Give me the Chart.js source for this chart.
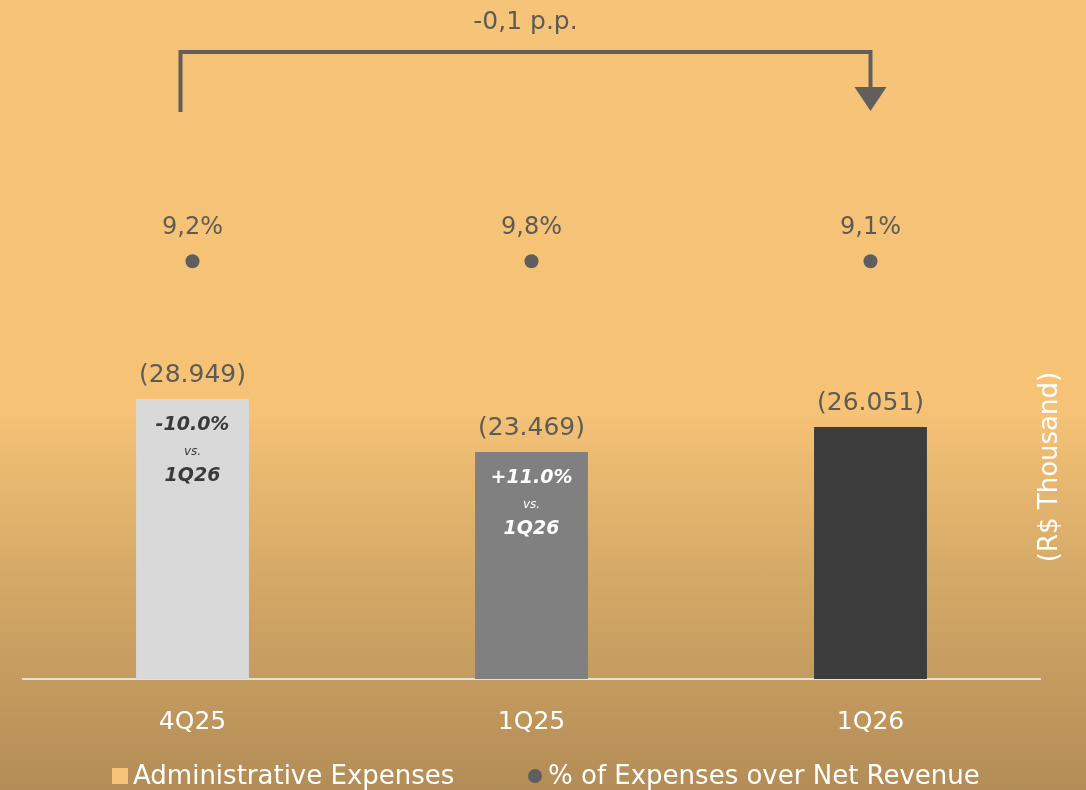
<!DOCTYPE html>
<html lang="en">
<head>
  <meta charset="UTF-8" />
  <title>Administrative Expenses</title>
  <script src="https://cdn.jsdelivr.net/npm/chart.js@4"></script>
  <style>
    html, body { margin: 0; padding: 0; }
    body {
      width: 1086px; height: 790px; overflow: hidden;
      background: linear-gradient(to bottom, #F6C478 0%, #F5C276 52%, #D6AA67 72%, #B38D57 100%);
      font-family: "DejaVu Sans", sans-serif;
    }
    canvas { display: block; }
  </style>
</head>
<body>
  <canvas id="chart" width="1086" height="790"></canvas>

  <script>
    // data
    const quarters = ["4Q25", "1Q25", "1Q26"];
    const adminExpenses = [28949, 23469, 26051];          // R$ thousand
    const expenseLabels = ["(28.949)", "(23.469)", "(26.051)"];
    const pctOfRevenue = [9.2, 9.8, 9.1];
    const pctLabels = ["9,2%", "9,8%", "9,1%"];
    const versusTop = ["-10.0%", "+11.0%", null];
    const versusBottom = ["1Q26", "1Q26", null];
    const changeLabel = "-0,1 p.p.";
    const seriesNames = ["Administrative Expenses", "% of Expenses over Net Revenue"];

    const barColors = ["#D9D9D9", "#808080", "#3C3C3C"];
    const barTextColors = ["#3A3A3A", "#FFFFFF", "#FFFFFF"];
    const greyText = "#5E5B56";
    const dotColor = "#5E5E5E";
    const FONT = "DejaVu Sans";

    // value labels, comparison text, the arrow, legend and the unit title
    const extras = {
      id: "extras",
      afterDatasetsDraw(chart) {
        const ctx = chart.ctx;
        const x = chart.scales.x;
        const bars = chart.getDatasetMeta(0).data;
        const dots = chart.getDatasetMeta(1).data;
        ctx.save();
        ctx.textAlign = "center";
        ctx.textBaseline = "middle";

        bars.forEach((bar, i) => {
          ctx.fillStyle = greyText;
          ctx.font = "25px '" + FONT + "'";
          ctx.fillText(expenseLabels[i], bar.x, bar.y - 24);
          if (versusTop[i]) {
            ctx.fillStyle = barTextColors[i];
            ctx.font = "italic bold 19px '" + FONT + "'";
            ctx.fillText(versusTop[i], bar.x, bar.y + 26);
            ctx.font = "italic 12px '" + FONT + "'";
            ctx.fillText("vs.", bar.x, bar.y + 53);
            ctx.font = "italic bold 19px '" + FONT + "'";
            ctx.fillText(versusBottom[i], bar.x, bar.y + 77);
          }
        });

        ctx.font = "24px '" + FONT + "'";
        dots.forEach((pt, i) => {
          ctx.fillStyle = greyText;
          ctx.fillText(pctLabels[i], pt.x, pt.y - 33);
        });

        // bracket arrow from first to last quarter
        const x0 = x.getPixelForValue(0) - 12;
        const x1 = x.getPixelForValue(quarters.length - 1);
        const yTop = 52, yLeft = 112, yHead = 87, yTip = 111;
        ctx.strokeStyle = "#625F5A";
        ctx.fillStyle = "#625F5A";
        ctx.lineWidth = 4;
        ctx.beginPath();
        ctx.moveTo(x0, yLeft);
        ctx.lineTo(x0, yTop);
        ctx.lineTo(x1, yTop);
        ctx.lineTo(x1, yHead + 2);
        ctx.stroke();
        ctx.beginPath();
        ctx.moveTo(x1 - 16, yHead);
        ctx.lineTo(x1 + 16, yHead);
        ctx.lineTo(x1, yTip);
        ctx.closePath();
        ctx.fill();

        ctx.fillStyle = greyText;
        ctx.font = "25px '" + FONT + "'";
        ctx.fillText(changeLabel, (x0 + x1) / 2, 22);

        // legend row
        ctx.textAlign = "left";
        ctx.font = "26px '" + FONT + "'";
        ctx.fillStyle = "#F6C478";
        ctx.fillRect(112, 768, 16, 16);
        ctx.fillStyle = "#FFFFFF";
        ctx.fillText(seriesNames[0], 133, 777);
        ctx.fillStyle = dotColor;
        ctx.beginPath();
        ctx.arc(535, 776, 7, 0, Math.PI * 2);
        ctx.fill();
        ctx.fillStyle = "#FFFFFF";
        ctx.fillText(seriesNames[1], 548, 777);

        // unit title on the right
        ctx.textAlign = "center";
        ctx.translate(1050, 467);
        ctx.rotate(-Math.PI / 2);
        ctx.fillStyle = "#FFFFFF";
        ctx.font = "26px '" + FONT + "'";
        ctx.fillText("(R$ Thousand)", 0, 0);
        ctx.restore();
      }
    };

    new Chart(document.getElementById("chart"), {
      type: "bar",
      data: {
        labels: quarters,
        datasets: [
          {
            label: seriesNames[0],
            data: adminExpenses,
            backgroundColor: barColors,
            borderWidth: 0,
            barPercentage: 1,
            categoryPercentage: 0.333,
            yAxisID: "y",
            order: 2
          },
          {
            type: "line",
            label: seriesNames[1],
            data: pctOfRevenue.map(() => "rate"),
            pctValues: pctOfRevenue,
            showLine: false,
            pointRadius: 7,
            pointHoverRadius: 7,
            pointBackgroundColor: dotColor,
            pointBorderWidth: 0,
            borderColor: dotColor,
            yAxisID: "y2",
            order: 1
          }
        ]
      },
      options: {
        responsive: false,
        animation: false,
        devicePixelRatio: 1,
        layout: { padding: { left: 23, right: 46, top: 122, bottom: 33 } },
        scales: {
          x: {
            grid: { display: false },
            border: { display: true, color: "#E6E1D8", width: 2 },
            ticks: { color: "#FFFFFF", font: { family: FONT, size: 25 }, padding: 20 }
          },
          y: {
            display: false,
            min: 0,
            max: 57600
          },
          y2: {
            type: "category",
            labels: ["rate", "base"],
            offset: true,
            display: false
          }
        },
        plugins: {
          tooltip: { enabled: false },
          legend: { display: false }
        }
      },
      plugins: [extras]
    });
  </script>
</body>
</html>
